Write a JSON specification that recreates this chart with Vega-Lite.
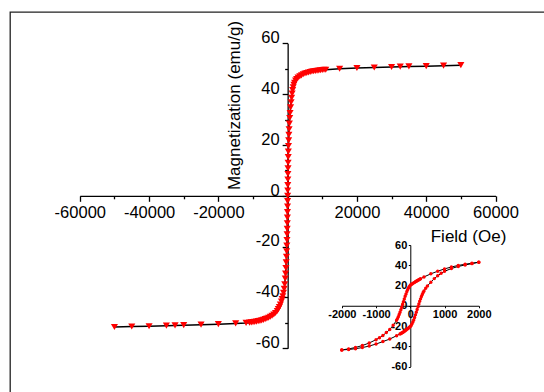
{
  "$schema": "https://vega.github.io/schema/vega-lite/v6.json",
  "width": 534,
  "height": 380,
  "autosize": "none",
  "padding": {"left": 10, "top": 12, "right": 0, "bottom": 0},
  "background": "white",
  "config": {
    "view": {"stroke": "#222222", "strokeWidth": 1.3, "strokeDash": [534, 914, 380]},
    "axis": {"grid": false, "labelFont": "Liberation Sans", "titleFont": "Liberation Sans", "labelColor": "#000000", "titleColor": "#000000", "domainColor": "#000000", "tickColor": "#000000", "labelFlush": false, "labelOverlap": false}
  },
  "datasets": {
    "main": [
      {"H": -50000, "M": -51.6}, {"H": -45000, "M": -51.4}, {"H": -40000, "M": -51.3}, {"H": -35000, "M": -51.1},
      {"H": -32500, "M": -51.0}, {"H": -30000, "M": -50.9}, {"H": -25000, "M": -50.7}, {"H": -20000, "M": -50.5},
      {"H": -15000, "M": -50.2}, {"H": -12000, "M": -50.0}, {"H": -11000, "M": -49.9}, {"H": -10500, "M": -49.8},
      {"H": -10000, "M": -49.7}, {"H": -9500, "M": -49.6}, {"H": -9000, "M": -49.5}, {"H": -8500, "M": -49.3},
      {"H": -8000, "M": -49.2}, {"H": -7500, "M": -49.0}, {"H": -7000, "M": -48.8}, {"H": -6500, "M": -48.5},
      {"H": -6000, "M": -48.3}, {"H": -5500, "M": -48.0}, {"H": -5000, "M": -47.6}, {"H": -4500, "M": -47.2},
      {"H": -4000, "M": -46.7}, {"H": -3500, "M": -46.1}, {"H": -3000, "M": -45.3}, {"H": -2700, "M": -44.6},
      {"H": -2400, "M": -43.8}, {"H": -2100, "M": -42.8}, {"H": -1800, "M": -41.6}, {"H": -1600, "M": -40.6},
      {"H": -1400, "M": -39.5}, {"H": -1200, "M": -38.2}, {"H": -1000, "M": -36.6}, {"H": -850, "M": -34.8},
      {"H": -700, "M": -32.6}, {"H": -600, "M": -30.6}, {"H": -500, "M": -28.4}, {"H": -420, "M": -26.2},
      {"H": -350, "M": -24.0}, {"H": -290, "M": -21.8}, {"H": -240, "M": -19.6}, {"H": -200, "M": -17.4},
      {"H": -160, "M": -15.2}, {"H": -130, "M": -13.0}, {"H": -100, "M": -10.8}, {"H": -75, "M": -8.6},
      {"H": -55, "M": -6.4}, {"H": -35, "M": -4.2}, {"H": -20, "M": -2.1}, {"H": 0, "M": 0},
      {"H": 20, "M": 2.1}, {"H": 35, "M": 4.2}, {"H": 55, "M": 6.4}, {"H": 75, "M": 8.6},
      {"H": 100, "M": 10.8}, {"H": 130, "M": 13.0}, {"H": 160, "M": 15.2}, {"H": 200, "M": 17.4},
      {"H": 240, "M": 19.6}, {"H": 290, "M": 21.8}, {"H": 350, "M": 24.0}, {"H": 420, "M": 26.2},
      {"H": 500, "M": 28.4}, {"H": 600, "M": 30.6}, {"H": 700, "M": 32.6}, {"H": 850, "M": 34.8},
      {"H": 1000, "M": 36.8}, {"H": 1150, "M": 38.6}, {"H": 1300, "M": 40.2}, {"H": 1450, "M": 41.6},
      {"H": 1600, "M": 42.7}, {"H": 1800, "M": 43.7}, {"H": 2000, "M": 44.5}, {"H": 2300, "M": 45.3},
      {"H": 2600, "M": 45.9}, {"H": 3000, "M": 46.5}, {"H": 3500, "M": 47.0}, {"H": 4000, "M": 47.4},
      {"H": 4500, "M": 47.8}, {"H": 5000, "M": 48.1}, {"H": 5500, "M": 48.3}, {"H": 6000, "M": 48.5},
      {"H": 6500, "M": 48.7}, {"H": 7000, "M": 48.9}, {"H": 7500, "M": 49.0}, {"H": 8000, "M": 49.1},
      {"H": 8500, "M": 49.2}, {"H": 9000, "M": 49.3}, {"H": 9500, "M": 49.4}, {"H": 10000, "M": 49.5},
      {"H": 10500, "M": 49.6}, {"H": 11000, "M": 49.6}, {"H": 15000, "M": 50.0}, {"H": 20000, "M": 50.3},
      {"H": 25000, "M": 50.5}, {"H": 30000, "M": 50.7}, {"H": 32500, "M": 50.8}, {"H": 35000, "M": 50.9},
      {"H": 40000, "M": 51.0}, {"H": 45000, "M": 51.2}, {"H": 50000, "M": 51.4}
    ],
    "inset": [
      {"b": "u", "H": 2000, "M": 43.0}, {"b": "u", "H": 1800, "M": 42.0}, {"b": "u", "H": 1600, "M": 41.0},
      {"b": "u", "H": 1400, "M": 39.8}, {"b": "u", "H": 1200, "M": 38.3}, {"b": "u", "H": 1000, "M": 36.4},
      {"b": "u", "H": 800, "M": 34.1}, {"b": "u", "H": 600, "M": 31.5}, {"b": "u", "H": 400, "M": 28.5},
      {"b": "u", "H": 300, "M": 26.6}, {"b": "u", "H": 275, "M": 26.1}, {"b": "u", "H": 250, "M": 25.6},
      {"b": "u", "H": 225, "M": 25.1}, {"b": "u", "H": 200, "M": 24.6}, {"b": "u", "H": 175, "M": 24.1},
      {"b": "u", "H": 150, "M": 23.6}, {"b": "u", "H": 125, "M": 23.1}, {"b": "u", "H": 100, "M": 22.6},
      {"b": "u", "H": 75, "M": 22.1}, {"b": "u", "H": 50, "M": 21.5}, {"b": "u", "H": 25, "M": 20.9},
      {"b": "u", "H": 0, "M": 20.3}, {"b": "u", "H": -25, "M": 19.1}, {"b": "u", "H": -50, "M": 17.7},
      {"b": "u", "H": -75, "M": 16.0}, {"b": "u", "H": -100, "M": 14.0}, {"b": "u", "H": -125, "M": 11.7},
      {"b": "u", "H": -150, "M": 9.3}, {"b": "u", "H": -175, "M": 6.7}, {"b": "u", "H": -200, "M": 4.0},
      {"b": "u", "H": -225, "M": 1.3}, {"b": "u", "H": -250, "M": -1.4}, {"b": "u", "H": -275, "M": -4.0},
      {"b": "u", "H": -300, "M": -6.4}, {"b": "u", "H": -325, "M": -8.7}, {"b": "u", "H": -350, "M": -10.8},
      {"b": "u", "H": -375, "M": -12.7}, {"b": "u", "H": -400, "M": -14.4}, {"b": "u", "H": -500, "M": -19.2},
      {"b": "u", "H": -600, "M": -23.5}, {"b": "u", "H": -700, "M": -26.5}, {"b": "u", "H": -800, "M": -29.4},
      {"b": "u", "H": -900, "M": -31.6}, {"b": "u", "H": -1000, "M": -33.5}, {"b": "u", "H": -1200, "M": -36.8},
      {"b": "u", "H": -1400, "M": -39.3}, {"b": "u", "H": -1600, "M": -41.2}, {"b": "u", "H": -1800, "M": -42.6},
      {"b": "u", "H": -2000, "M": -43.6},
      {"b": "l", "H": -2000, "M": -43.6}, {"b": "l", "H": -1800, "M": -43.2}, {"b": "l", "H": -1600, "M": -42.4},
      {"b": "l", "H": -1400, "M": -41.3}, {"b": "l", "H": -1200, "M": -39.8}, {"b": "l", "H": -1000, "M": -37.8},
      {"b": "l", "H": -800, "M": -35.4}, {"b": "l", "H": -600, "M": -32.9}, {"b": "l", "H": -400, "M": -29.6},
      {"b": "l", "H": -300, "M": -27.8}, {"b": "l", "H": -275, "M": -27.4}, {"b": "l", "H": -250, "M": -26.9},
      {"b": "l", "H": -225, "M": -26.4}, {"b": "l", "H": -200, "M": -25.9}, {"b": "l", "H": -175, "M": -25.3},
      {"b": "l", "H": -150, "M": -24.7}, {"b": "l", "H": -125, "M": -24.0}, {"b": "l", "H": -100, "M": -23.3},
      {"b": "l", "H": -75, "M": -22.6}, {"b": "l", "H": -50, "M": -21.9}, {"b": "l", "H": -25, "M": -21.2},
      {"b": "l", "H": 0, "M": -20.6}, {"b": "l", "H": 25, "M": -19.4}, {"b": "l", "H": 50, "M": -17.9},
      {"b": "l", "H": 75, "M": -16.1}, {"b": "l", "H": 100, "M": -14.0}, {"b": "l", "H": 125, "M": -11.6},
      {"b": "l", "H": 150, "M": -9.0}, {"b": "l", "H": 175, "M": -6.3}, {"b": "l", "H": 200, "M": -3.6},
      {"b": "l", "H": 225, "M": -0.9}, {"b": "l", "H": 250, "M": 1.8}, {"b": "l", "H": 275, "M": 4.4},
      {"b": "l", "H": 300, "M": 6.8}, {"b": "l", "H": 325, "M": 9.1}, {"b": "l", "H": 350, "M": 11.2},
      {"b": "l", "H": 375, "M": 13.0}, {"b": "l", "H": 400, "M": 14.6}, {"b": "l", "H": 450, "M": 17.3},
      {"b": "l", "H": 500, "M": 19.6}, {"b": "l", "H": 600, "M": 23.3}, {"b": "l", "H": 700, "M": 26.8},
      {"b": "l", "H": 800, "M": 29.6}, {"b": "l", "H": 900, "M": 32.0}, {"b": "l", "H": 1000, "M": 34.0},
      {"b": "l", "H": 1200, "M": 36.8}, {"b": "l", "H": 1400, "M": 38.8}, {"b": "l", "H": 1600, "M": 40.3},
      {"b": "l", "H": 1800, "M": 41.6}, {"b": "l", "H": 2000, "M": 43.0}
    ]
  },
  "layer": [
    {
      "data": {"name": "main"},
      "encoding": {
        "x": {
          "field": "H", "type": "quantitative",
          "scale": {"domain": [-60000, 60000], "range": [69.8, 485.5], "nice": false, "zero": false},
          "axis": {
            "orient": "bottom", "offset": -196.2,
            "values": [-60000, -50000, -40000, -30000, -20000, -10000, 0, 10000, 20000, 30000, 40000, 50000, 60000],
            "format": "d",
            "labelExpr": "(datum.value % 20000 === 0 && datum.value !== 0) ? replace(datum.label, '\u2212', '-') : ''",
            "tickSize": {"condition": {"test": "datum.value % 20000 === 0", "value": 5.5}, "value": 3},
            "domainWidth": 1.3, "tickWidth": 1.3,
            "labelFontSize": 16.5, "labelPadding": 3,
            "title": "Field (Oe)", "titleFontSize": 17, "titleFontWeight": "normal",
            "titleX": 458, "titleY": 41, "titleAlign": "center", "titleBaseline": "middle", "titleAngle": 0
          }
        },
        "y": {
          "field": "M", "type": "quantitative",
          "scale": {"domain": [-60, 60], "range": [336.3, 31.3], "nice": false, "zero": false},
          "axis": {
            "orient": "left", "offset": -277.65,
            "values": [-60, -50, -40, -30, -20, -10, 0, 10, 20, 30, 40, 50, 60],
            "labelExpr": "(datum.value % 20 === 0) ? replace(datum.label, '\u2212', '-') : ''",
            "tickSize": {"condition": {"test": "datum.value % 20 === 0", "value": 5.5}, "value": 3},
            "domainWidth": 1.3, "tickWidth": 1.3,
            "labelFontSize": 16.5, "labelPadding": 3, "labelOffset": -5.7,
            "title": "Magnetization (emu/g)", "titleFontSize": 17, "titleFontWeight": "normal",
            "titleX": -53.6, "titleY": 93, "titleAlign": "center", "titleBaseline": "middle", "titleAngle": -90
          }
        }
      },
      "layer": [
        {"mark": {"type": "line", "color": "#000000", "strokeWidth": 1.5}},
        {"mark": {"type": "point", "shape": "triangle-down", "filled": true, "color": "#ff0000", "size": 50, "opacity": 1}}
      ]
    },
    {
      "data": {"name": "inset"},
      "encoding": {
        "x": {
          "field": "H", "type": "quantitative",
          "scale": {"domain": [-2000, 2000], "range": [331.8, 468.8], "nice": false, "zero": false},
          "axis": {
            "orient": "bottom", "offset": -86.25,
            "values": [-2000, -1000, 0, 1000, 2000],
            "format": "d",
            "labelExpr": "replace(datum.label, '\u2212', '-')",
            "tickSize": 2, "domainWidth": 1, "tickWidth": 1,
            "labelFontSize": 11, "labelFontWeight": "bold", "labelPadding": 0.5,
            "title": null
          }
        },
        "y": {
          "field": "M", "type": "quantitative",
          "scale": {"domain": [-60, 60], "range": [354.5, 233], "nice": false, "zero": false},
          "axis": {
            "orient": "left", "offset": -400.3,
            "values": [-60, -40, -20, 0, 20, 40, 60],
            "labelExpr": "replace(datum.label, '\u2212', '-')",
            "tickSize": 2, "domainWidth": 1, "tickWidth": 1,
            "labelFontSize": 11, "labelFontWeight": "bold", "labelPadding": 1.5,
            "title": null
          }
        },
        "detail": {"field": "b", "type": "nominal"}
      },
      "layer": [
        {"mark": {"type": "line", "color": "#000000", "strokeWidth": 1}},
        {"mark": {"type": "point", "shape": "circle", "filled": true, "color": "#ff0000", "size": 12, "opacity": 1}}
      ]
    }
  ],
  "resolve": {
    "scale": {"x": "independent", "y": "independent"},
    "axis": {"x": "independent", "y": "independent"}
  }
}
